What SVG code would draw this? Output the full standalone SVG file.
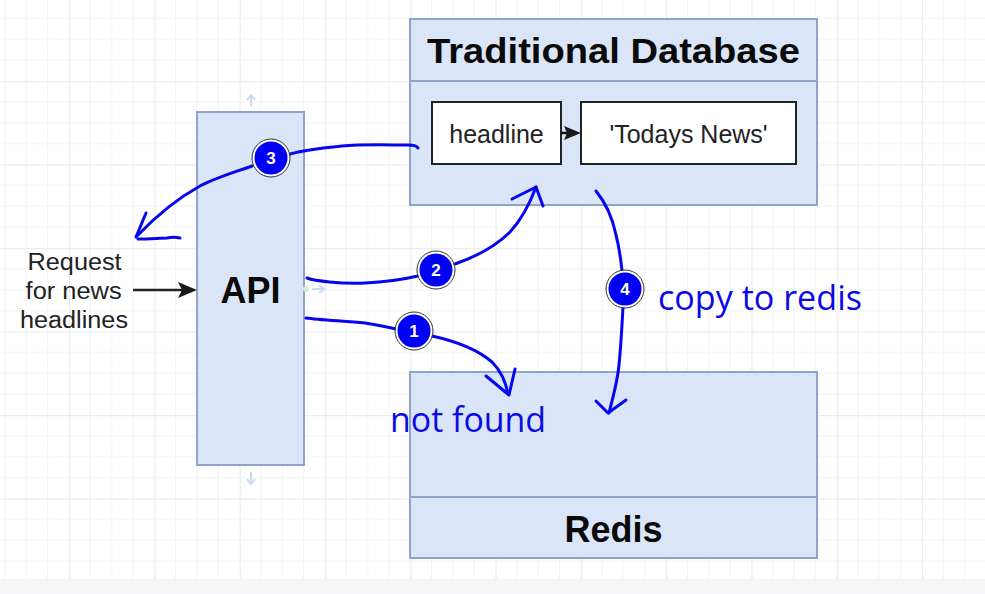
<svg xmlns="http://www.w3.org/2000/svg" width="985" height="594" viewBox="0 0 985 594">
<style>
.box{fill:#dae6f8;stroke:#8ea4c8;stroke-width:2}
.wbox{fill:#ffffff;stroke:#222;stroke-width:2}
.title{font-family:"Liberation Sans",Arial,sans-serif;font-weight:bold;fill:#0a0a0a}
.lbl{font-family:"Liberation Sans",Arial,sans-serif;fill:#222}
.hand{fill:none;stroke:#0505f0;stroke-width:3;stroke-linecap:round;stroke-linejoin:round}
.badge{fill:#0000f5;stroke:#ffffff;stroke-width:2}
.ring{fill:none;stroke:#333;stroke-width:1}
.num{font-family:"Liberation Sans",Arial,sans-serif;font-weight:bold;font-size:17px;fill:#fff;text-anchor:middle}
.note{font-family:"Open Sans","Liberation Sans",sans-serif;font-size:34px;fill:#0a0ae8}
.ghost{fill:none;stroke:#c8dbf2;stroke-width:2}
.head{fill:#1a1a1a;stroke:none}
</style>
<defs>
<pattern id="grid" patternUnits="userSpaceOnUse" x="-16.3" y="-2.5" width="85.3" height="83.5">
<path d="M21.3,0V83.5M42.6,0V83.5M64,0V83.5M0,20.9H85.3M0,41.75H85.3M0,62.6H85.3" stroke="#f3f3f6" stroke-width="1" fill="none"/>
<path d="M0.5,0V83.5M0,0.5H85.3" stroke="#ebebf0" stroke-width="1.5" fill="none"/>
</pattern>
</defs>
<rect width="985" height="594" fill="#ffffff"/>
<rect width="985" height="594" fill="url(#grid)"/>
<rect x="0" y="579" width="985" height="15" fill="#f6f6f8"/>

<g id="traditional-db">
<rect class="box" x="410" y="19" width="407" height="186"/>
<line x1="410" y1="81" x2="817" y2="81" stroke="#8ea4c8" stroke-width="2"/>
<text class="title" x="427" y="63" font-size="35" textLength="373" lengthAdjust="spacingAndGlyphs">Traditional Database</text>
</g>
<g id="headline">
<rect class="wbox" x="432" y="102" width="129" height="62"/>
<text class="lbl" x="496.5" y="143" font-size="25" text-anchor="middle">headline</text>
</g>
<g id="todays-news">
<rect class="wbox" x="581" y="102" width="215" height="62"/>
<text class="lbl" x="688.5" y="143" font-size="25" text-anchor="middle">'Todays News'</text>
</g>
<g id="api">
<rect class="box" x="197" y="112" width="107" height="353"/>
<text class="title" x="250.5" y="303" font-size="36" text-anchor="middle">API</text>
</g>
<g id="redis">
<rect class="box" x="410" y="372" width="407" height="186"/>
<line x1="410" y1="497" x2="817" y2="497" stroke="#8ea4c8" stroke-width="2"/>
<text class="title" x="613.5" y="542" font-size="36" text-anchor="middle">Redis</text>
</g>
<g id="request">
<text class="lbl" font-size="23" text-anchor="end">
<tspan x="128" y="270" textLength="94" lengthAdjust="spacingAndGlyphs">Request</tspan>
<tspan x="128" y="299" textLength="96" lengthAdjust="spacingAndGlyphs">for news</tspan>
<tspan x="128" y="328" textLength="108" lengthAdjust="spacingAndGlyphs">headlines</tspan>
</text>
</g>

<g id="connectors">
<line x1="133" y1="290" x2="184" y2="290" stroke="#222" stroke-width="2.5"/>
<path class="head" d="M197,290L178,282L182,290L178,298Z"/>
<line x1="561" y1="133" x2="569" y2="133" stroke="#111" stroke-width="2.5"/>
<path class="head" d="M581,133L564,126L567,133L564,140Z"/>
<path class="ghost" d="M251,107V96M247,100L251,95L255,100"/>
<path class="ghost" d="M251,472V483M247,479L251,484L255,479"/>
<path class="ghost" d="M312,289H323M319,285L324,289L319,293"/>
<circle cx="306" cy="289" r="3" fill="#cfeccf"/>
<path class="hand" d="M418,148C417,146 414,145 408,145C390,145 362,144 342,146C322,148 305,150 290,154"/>
<path class="hand" d="M252,166C235,172 215,178 200,186C180,197 158,214 137,236"/>
<path class="hand" d="M146,213L136,237M138,239C150,239 160,238 167,238C171,237 175,237 180,238"/>
<path class="hand" d="M307,278C315,281 340,284 365,283C385,282 405,279 418,276"/>
<path class="hand" d="M455,264C475,257 495,247 510,232C522,219 530,203 536,187"/>
<path class="hand" d="M512,199L536,187L543,206"/>
<path class="hand" d="M306,318C320,320 345,321 365,323C378,325 388,327 396,329"/>
<path class="hand" d="M432,336C455,341 478,350 492,362C502,372 506,383 508,394"/>
<path class="hand" d="M486,376L509,395L515,369"/>
<path class="hand" d="M596,191C605,202 612,215 616,235C620,250 621,262 622,271"/>
<path class="hand" d="M623,307C622,325 621,345 619,365C617,385 612,400 609,413"/>
<path class="hand" d="M596,401L608,413L626,400"/>
</g>

<g id="badge-3">
<circle class="badge" cx="271" cy="158" r="17.5"/><circle class="ring" cx="271" cy="158" r="19"/>
<text class="num" x="271" y="164">3</text>
</g>
<g id="badge-2">
<circle class="badge" cx="436" cy="270" r="17.5"/><circle class="ring" cx="436" cy="270" r="19"/>
<text class="num" x="436" y="276">2</text>
</g>
<g id="badge-1">
<circle class="badge" cx="414" cy="331" r="17.5"/><circle class="ring" cx="414" cy="331" r="19"/>
<text class="num" x="414" y="337">1</text>
</g>
<g id="badge-4">
<circle class="badge" cx="625" cy="289" r="17.5"/><circle class="ring" cx="625" cy="289" r="19"/>
<text class="num" x="625" y="295">4</text>
</g>
<g id="notes">
<text class="note" x="390" y="432" textLength="156" lengthAdjust="spacingAndGlyphs">not found</text>
<text class="note" x="658" y="310" textLength="204" lengthAdjust="spacingAndGlyphs">copy to redis</text>
</g>
</svg>
